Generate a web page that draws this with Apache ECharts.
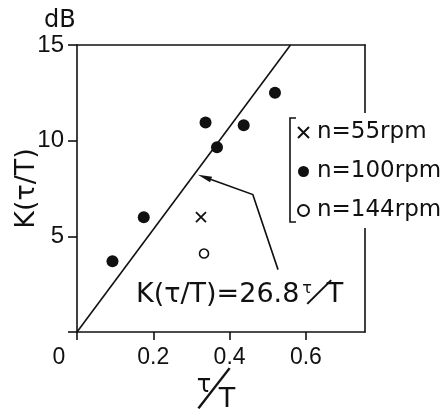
<!DOCTYPE html>
<html>
<head>
<meta charset="utf-8">
<script src="https://cdn.jsdelivr.net/npm/echarts@6/dist/echarts.min.js"></script>
<style>
  html, body { margin: 0; padding: 0; background: #fff; }
  #c { width: 447px; height: 412px; }
</style>
</head>
<body>
<div id="c"></div>
<script>
// Tick positions
const xTicks = [0, 0.2, 0.4, 0.6];
const yTicks = [0, 5, 10, 15];
const xMax = 0.755;
const yMax = 15;

// Measured points, [tau/T, K in dB]
const n55 = [[0.325, 6.0]];
const n100 = [[0.093, 3.7], [0.175, 6.0], [0.337, 10.95], [0.367, 9.65], [0.437, 10.8], [0.519, 12.5]];
const n144 = [[0.333, 4.1]];

// Fitted line K(tau/T) = 26.8 tau/T
const slope = 26.8;
const fitLine = [[0, 0], [yMax / slope, yMax]];

// Callout arrow path (data units), ending on the fitted line
const arrowPath = [[0.527, 3.26], [0.461, 7.18], [0.317, 8.22]];

const INK = '#111';
const FONT = '"Liberation Sans", Arial, sans-serif';
const WIDE = '"DejaVu Sans", sans-serif';

const chart = echarts.init(document.getElementById('c'), null, { renderer: 'canvas' });

const isTick = v => xTicks.some(t => Math.abs(t - v) < 1e-6);

const option = {
  animation: false,
  backgroundColor: '#fff',
  grid: { left: 77, top: 45, right: 82, bottom: 80, containLabel: false, outerBoundsMode: 'none' },
  legend: {
    orient: 'vertical',
    left: 293, top: 113,
    padding: [8, 4, 6, 4],
    backgroundColor: '#fff',
    itemWidth: 11, itemHeight: 11,
    itemGap: 16,
    data: ['n=55rpm', 'n=100rpm', 'n=144rpm'],
    textStyle: { fontFamily: WIDE, fontSize: 23, color: INK, padding: [0, 0, 0, 3] }
  },
  xAxis: [{
    type: 'value', min: 0, max: xMax, interval: 0.2, position: 'bottom',
    axisLine: { show: true, onZero: false, lineStyle: { color: INK, width: 1.6 } },
    axisTick: { show: true, customValues: xTicks, length: 8, lineStyle: { color: INK, width: 1.6 } },
    axisLabel: {
      customValues: xTicks, margin: 14,
      fontFamily: FONT, fontSize: 23, color: INK,
      formatter: v => (Math.abs(v) < 1e-9 ? '{o|0}' : (isTick(v) ? v.toFixed(1) : '')),
      rich: { o: { fontFamily: FONT, fontSize: 23, color: INK, padding: [0, 36, 0, 0] } }
    },
    splitLine: { show: false }
  }, {
    type: 'value', min: 0, max: xMax, position: 'top',
    axisLine: { show: true, onZero: false, lineStyle: { color: INK, width: 1.6 } },
    axisTick: { show: false }, axisLabel: { show: false }, splitLine: { show: false }
  }],
  yAxis: [{
    type: 'value', min: 0, max: yMax, interval: 5, position: 'left',
    name: 'K(τ/T)', nameLocation: 'middle', nameGap: 37, nameRotate: 90, nameMoveOverlap: false,
    nameTextStyle: { fontFamily: WIDE, fontSize: 27, color: INK },
    axisLine: { show: true, onZero: false, lineStyle: { color: INK, width: 1.6 } },
    axisTick: { show: true, customValues: yTicks, length: 9, lineStyle: { color: INK, width: 1.6 } },
    axisLabel: {
      margin: 13, fontFamily: FONT, fontSize: 24, color: INK,
      formatter: v => (v === 0 ? '' : String(v))
    },
    splitLine: { show: false }
  }, {
    type: 'value', min: 0, max: yMax, position: 'right',
    axisLine: { show: true, onZero: false, lineStyle: { color: INK, width: 1.6 } },
    axisTick: { show: false }, axisLabel: { show: false }, splitLine: { show: false }
  }],
  series: [{
    name: 'fit', type: 'line', data: fitLine, symbol: 'none', silent: true,
    lineStyle: { color: INK, width: 1.6 }, z: 1
  }, {
    name: 'n=55rpm', type: 'scatter', data: n55,
    symbol: 'path://M0,0L10,10M10,0L0,10', symbolSize: 10,
    itemStyle: { color: 'transparent', borderColor: INK, borderWidth: 1.8, opacity: 1 }, z: 3
  }, {
    name: 'n=100rpm', type: 'scatter', data: n100,
    symbol: 'circle', symbolSize: 12,
    itemStyle: { color: INK, opacity: 1 }, z: 3
  }, {
    name: 'n=144rpm', type: 'scatter', data: n144,
    symbol: 'circle', symbolSize: 9,
    itemStyle: { color: '#fff', borderColor: INK, borderWidth: 1.6, opacity: 1 }, z: 3
  }]
};

chart.setOption(option);

// Callout arrow pointing at the fitted line
const toPx = p => chart.convertToPixel({ xAxisIndex: 0, yAxisIndex: 0 }, p);
const pts = arrowPath.map(toPx);
const tip = pts[pts.length - 1];
const prev = pts[pts.length - 2];
const ang = Math.atan2(tip[1] - prev[1], tip[0] - prev[0]);
const headL = 14, headW = 3;
const base = [tip[0] - headL * Math.cos(ang), tip[1] - headL * Math.sin(ang)];
const headPts = [
  tip,
  [base[0] + headW * Math.sin(ang), base[1] - headW * Math.cos(ang)],
  [base[0] - headW * Math.sin(ang), base[1] + headW * Math.cos(ang)]
];
const lineEnd = pts.slice(0, -1).concat([base]);

const deg = d => d * Math.PI / 180;
const txt = (text, x, y, size, extra, family) => Object.assign({
  type: 'text', x: x, y: y, z: 20,
  style: { text: text, fontFamily: family || FONT, fontSize: size, fill: INK, align: 'center', verticalAlign: 'middle' }
}, extra || {});

chart.setOption({
  graphic: [
    { type: 'polyline', z: 20, shape: { points: lineEnd }, style: { stroke: INK, lineWidth: 1.6, fill: null } },
    { type: 'polygon', z: 20, shape: { points: headPts }, style: { fill: INK } },
    // unit above the value axis
    { type: 'text', x: 44, y: 21, z: 20,
      style: { text: 'dB', fontFamily: WIDE, fontSize: 24, fill: INK, align: 'left', verticalAlign: 'middle' } },
    // legend bracket
    { type: 'polyline', z: 20, shape: { points: [[296, 118], [290, 118], [290, 222], [296, 222]] },
      style: { stroke: INK, lineWidth: 1.6, fill: null } },
    // equation label
    { type: 'text', x: 136, y: 295, z: 20,
      style: { text: 'K(τ/T)=26.8', fontFamily: WIDE, fontSize: 27, fill: INK, align: 'left', verticalAlign: 'middle' } },
    txt('τ', 307, 289, 16, null, WIDE),
    txt('/', 317, 295, 24, { scaleY: 1.9, rotation: deg(-37) }),
    txt('T', 335, 295, 27, null, WIDE),
    // x-axis title
    txt('τ', 204, 386, 24, null, WIDE),
    txt('/', 211, 393, 30, { scaleY: 2.3, rotation: deg(-31) }),
    txt('T', 227, 400, 27, null, WIDE)
  ]
});
</script>
</body>
</html>
